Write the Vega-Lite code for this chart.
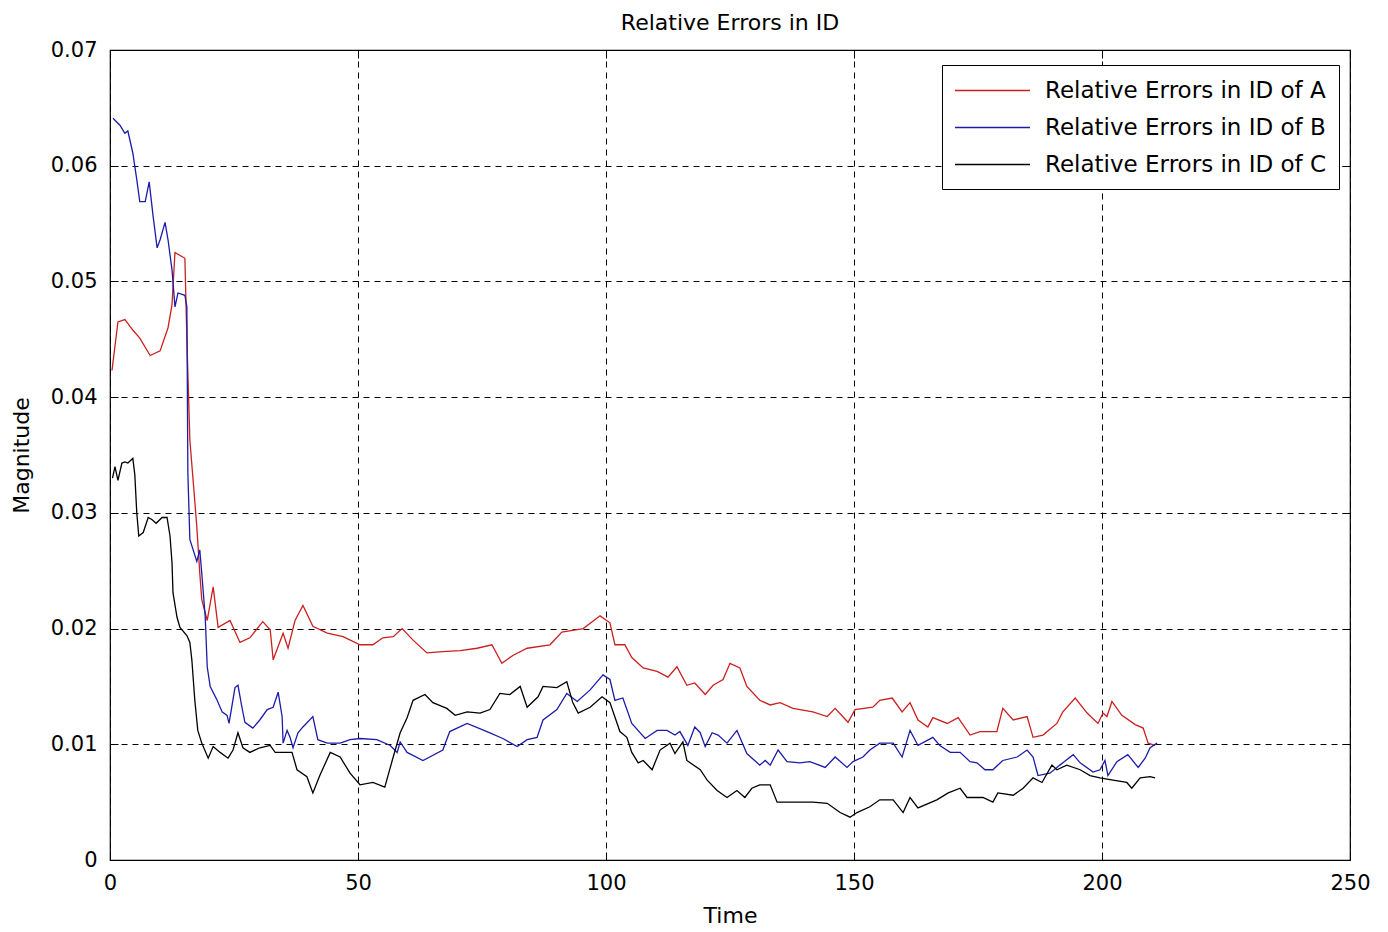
{
  "$schema": "https://vega.github.io/schema/vega-lite/v6.json",
  "width": 1240,
  "height": 810,
  "autosize": "none",
  "padding": {"left": 110, "top": 50, "right": 38, "bottom": 72},
  "background": "white",
  "config": {
    "font": "DejaVu Sans",
    "view": {"stroke": "black", "strokeWidth": 1.2},
    "axis": {"labelColor": "black", "titleColor": "black", "tickColor": "black", "domainColor": "black", "titleFontWeight": "normal"}
  },
  "title": {"text": "Relative Errors in ID", "fontSize": 22, "fontWeight": "normal", "color": "black", "offset": 4, "anchor": "middle"},
  "datasets": {
    "d": [
      {"s":"A","t":0.4,"v":0.0423},{"s":"A","t":1.6,"v":0.0465},{"s":"A","t":3.0,"v":0.0467},{"s":"A","t":4.6,"v":0.0458},{"s":"A","t":6.0,"v":0.0451},{"s":"A","t":8.1,"v":0.0436},{"s":"A","t":10.1,"v":0.0440},{"s":"A","t":11.7,"v":0.0460},{"s":"A","t":12.5,"v":0.0480},{"s":"A","t":13.1,"v":0.0525},{"s":"A","t":15.1,"v":0.0520},{"s":"A","t":15.5,"v":0.0450},{"s":"A","t":16.1,"v":0.0363},{"s":"A","t":17.1,"v":0.0310},{"s":"A","t":17.5,"v":0.0288},{"s":"A","t":18.1,"v":0.0248},{"s":"A","t":18.5,"v":0.0225},{"s":"A","t":19.6,"v":0.0207},{"s":"A","t":20.8,"v":0.0236},{"s":"A","t":21.8,"v":0.0201},{"s":"A","t":24.2,"v":0.0207},{"s":"A","t":26.2,"v":0.0188},{"s":"A","t":28.2,"v":0.0192},{"s":"A","t":30.8,"v":0.0206},{"s":"A","t":32.3,"v":0.0199},{"s":"A","t":32.9,"v":0.0173},{"s":"A","t":34.9,"v":0.0196},{"s":"A","t":35.9,"v":0.0183},{"s":"A","t":37.3,"v":0.0207},{"s":"A","t":38.9,"v":0.0220},{"s":"A","t":40.9,"v":0.0202},{"s":"A","t":43.8,"v":0.0196},{"s":"A","t":47.0,"v":0.0193},{"s":"A","t":50.4,"v":0.0186},{"s":"A","t":53.0,"v":0.0186},{"s":"A","t":55.0,"v":0.0192},{"s":"A","t":57.1,"v":0.0193},{"s":"A","t":58.9,"v":0.0200},{"s":"A","t":61.1,"v":0.0190},{"s":"A","t":63.9,"v":0.0179},{"s":"A","t":67.1,"v":0.0180},{"s":"A","t":70.6,"v":0.0181},{"s":"A","t":74.0,"v":0.0183},{"s":"A","t":77.0,"v":0.0186},{"s":"A","t":79.0,"v":0.0170},{"s":"A","t":81.3,"v":0.0177},{"s":"A","t":84.1,"v":0.0183},{"s":"A","t":88.7,"v":0.0186},{"s":"A","t":91.1,"v":0.0197},{"s":"A","t":95.4,"v":0.0200},{"s":"A","t":98.8,"v":0.0211},{"s":"A","t":100.8,"v":0.0205},{"s":"A","t":101.8,"v":0.0186},{"s":"A","t":103.8,"v":0.0186},{"s":"A","t":105.2,"v":0.0175},{"s":"A","t":107.5,"v":0.0166},{"s":"A","t":110.3,"v":0.0163},{"s":"A","t":112.5,"v":0.0158},{"s":"A","t":114.3,"v":0.0167},{"s":"A","t":116.3,"v":0.0151},{"s":"A","t":117.9,"v":0.0153},{"s":"A","t":120.0,"v":0.0143},{"s":"A","t":121.6,"v":0.0151},{"s":"A","t":123.6,"v":0.0156},{"s":"A","t":125.0,"v":0.0170},{"s":"A","t":127.0,"v":0.0166},{"s":"A","t":128.4,"v":0.0150},{"s":"A","t":131.0,"v":0.0138},{"s":"A","t":133.1,"v":0.0134},{"s":"A","t":135.1,"v":0.0136},{"s":"A","t":137.7,"v":0.0131},{"s":"A","t":141.7,"v":0.0128},{"s":"A","t":144.6,"v":0.0124},{"s":"A","t":146.2,"v":0.0131},{"s":"A","t":148.8,"v":0.0119},{"s":"A","t":150.2,"v":0.0130},{"s":"A","t":153.8,"v":0.0132},{"s":"A","t":155.2,"v":0.0138},{"s":"A","t":157.7,"v":0.0140},{"s":"A","t":159.7,"v":0.0128},{"s":"A","t":161.3,"v":0.0136},{"s":"A","t":162.9,"v":0.0121},{"s":"A","t":164.9,"v":0.0115},{"s":"A","t":165.9,"v":0.0123},{"s":"A","t":168.8,"v":0.0118},{"s":"A","t":171.0,"v":0.0123},{"s":"A","t":173.4,"v":0.0108},{"s":"A","t":175.4,"v":0.0111},{"s":"A","t":178.8,"v":0.0111},{"s":"A","t":180.0,"v":0.0131},{"s":"A","t":182.1,"v":0.0121},{"s":"A","t":184.9,"v":0.0124},{"s":"A","t":186.1,"v":0.0106},{"s":"A","t":188.1,"v":0.0108},{"s":"A","t":190.9,"v":0.0118},{"s":"A","t":192.1,"v":0.0128},{"s":"A","t":194.6,"v":0.0140},{"s":"A","t":197.0,"v":0.0127},{"s":"A","t":199.2,"v":0.0118},{"s":"A","t":200.2,"v":0.0127},{"s":"A","t":201.0,"v":0.0124},{"s":"A","t":202.0,"v":0.0137},{"s":"A","t":204.0,"v":0.0125},{"s":"A","t":206.7,"v":0.0117},{"s":"A","t":208.3,"v":0.0114},{"s":"A","t":209.3,"v":0.0101},{"s":"A","t":210.7,"v":0.0099},
      {"s":"B","t":0.6,"v":0.0641},{"s":"B","t":2.0,"v":0.0635},{"s":"B","t":3.0,"v":0.0628},{"s":"B","t":3.6,"v":0.0630},{"s":"B","t":4.6,"v":0.0611},{"s":"B","t":5.4,"v":0.0588},{"s":"B","t":6.0,"v":0.0569},{"s":"B","t":7.1,"v":0.0569},{"s":"B","t":7.9,"v":0.0586},{"s":"B","t":8.7,"v":0.0556},{"s":"B","t":9.5,"v":0.0529},{"s":"B","t":10.1,"v":0.0536},{"s":"B","t":11.1,"v":0.0551},{"s":"B","t":11.7,"v":0.0536},{"s":"B","t":12.5,"v":0.0510},{"s":"B","t":13.1,"v":0.0478},{"s":"B","t":13.7,"v":0.0490},{"s":"B","t":15.1,"v":0.0488},{"s":"B","t":15.5,"v":0.0478},{"s":"B","t":15.7,"v":0.0334},{"s":"B","t":16.1,"v":0.0277},{"s":"B","t":17.5,"v":0.0258},{"s":"B","t":18.1,"v":0.0268},{"s":"B","t":18.5,"v":0.0248},{"s":"B","t":19.2,"v":0.0210},{"s":"B","t":19.6,"v":0.0167},{"s":"B","t":20.2,"v":0.0150},{"s":"B","t":21.6,"v":0.0138},{"s":"B","t":22.6,"v":0.0128},{"s":"B","t":23.6,"v":0.0125},{"s":"B","t":24.0,"v":0.0118},{"s":"B","t":25.2,"v":0.0149},{"s":"B","t":25.8,"v":0.0151},{"s":"B","t":26.6,"v":0.0132},{"s":"B","t":27.2,"v":0.0119},{"s":"B","t":28.8,"v":0.0114},{"s":"B","t":30.2,"v":0.0121},{"s":"B","t":31.7,"v":0.0130},{"s":"B","t":32.9,"v":0.0132},{"s":"B","t":33.9,"v":0.0145},{"s":"B","t":34.7,"v":0.0124},{"s":"B","t":34.9,"v":0.0101},{"s":"B","t":35.7,"v":0.0112},{"s":"B","t":36.3,"v":0.0106},{"s":"B","t":36.9,"v":0.0097},{"s":"B","t":37.9,"v":0.0110},{"s":"B","t":38.9,"v":0.0115},{"s":"B","t":40.9,"v":0.0124},{"s":"B","t":41.9,"v":0.0104},{"s":"B","t":43.8,"v":0.0101},{"s":"B","t":46.4,"v":0.0101},{"s":"B","t":48.4,"v":0.0104},{"s":"B","t":50.4,"v":0.0105},{"s":"B","t":53.8,"v":0.0104},{"s":"B","t":56.5,"v":0.0099},{"s":"B","t":57.9,"v":0.0093},{"s":"B","t":58.5,"v":0.0102},{"s":"B","t":59.9,"v":0.0093},{"s":"B","t":63.1,"v":0.0086},{"s":"B","t":67.1,"v":0.0095},{"s":"B","t":68.5,"v":0.0111},{"s":"B","t":72.0,"v":0.0118},{"s":"B","t":76.0,"v":0.0111},{"s":"B","t":79.2,"v":0.0105},{"s":"B","t":82.1,"v":0.0098},{"s":"B","t":84.1,"v":0.0104},{"s":"B","t":86.1,"v":0.0106},{"s":"B","t":87.3,"v":0.0121},{"s":"B","t":90.1,"v":0.0130},{"s":"B","t":92.1,"v":0.0144},{"s":"B","t":94.2,"v":0.0137},{"s":"B","t":96.8,"v":0.0147},{"s":"B","t":99.4,"v":0.0160},{"s":"B","t":100.8,"v":0.0156},{"s":"B","t":101.8,"v":0.0138},{"s":"B","t":103.4,"v":0.0140},{"s":"B","t":105.2,"v":0.0118},{"s":"B","t":107.9,"v":0.0105},{"s":"B","t":110.3,"v":0.0112},{"s":"B","t":112.3,"v":0.0112},{"s":"B","t":113.9,"v":0.0108},{"s":"B","t":114.9,"v":0.0111},{"s":"B","t":116.5,"v":0.0099},{"s":"B","t":117.9,"v":0.0115},{"s":"B","t":119.0,"v":0.0110},{"s":"B","t":120.0,"v":0.0098},{"s":"B","t":121.4,"v":0.0110},{"s":"B","t":122.6,"v":0.0108},{"s":"B","t":124.4,"v":0.0101},{"s":"B","t":126.4,"v":0.0112},{"s":"B","t":128.4,"v":0.0092},{"s":"B","t":131.0,"v":0.0082},{"s":"B","t":132.1,"v":0.0086},{"s":"B","t":133.1,"v":0.0082},{"s":"B","t":134.7,"v":0.0095},{"s":"B","t":136.5,"v":0.0085},{"s":"B","t":139.1,"v":0.0084},{"s":"B","t":141.1,"v":0.0085},{"s":"B","t":144.2,"v":0.0080},{"s":"B","t":146.2,"v":0.0089},{"s":"B","t":148.6,"v":0.0080},{"s":"B","t":149.8,"v":0.0085},{"s":"B","t":151.8,"v":0.0089},{"s":"B","t":153.2,"v":0.0095},{"s":"B","t":155.2,"v":0.0101},{"s":"B","t":157.9,"v":0.0101},{"s":"B","t":159.7,"v":0.0089},{"s":"B","t":161.3,"v":0.0112},{"s":"B","t":162.9,"v":0.0099},{"s":"B","t":165.9,"v":0.0106},{"s":"B","t":167.3,"v":0.0099},{"s":"B","t":169.4,"v":0.0093},{"s":"B","t":171.4,"v":0.0093},{"s":"B","t":173.4,"v":0.0085},{"s":"B","t":174.8,"v":0.0084},{"s":"B","t":176.4,"v":0.0078},{"s":"B","t":178.0,"v":0.0078},{"s":"B","t":180.0,"v":0.0086},{"s":"B","t":182.9,"v":0.0089},{"s":"B","t":184.9,"v":0.0095},{"s":"B","t":186.1,"v":0.0089},{"s":"B","t":187.1,"v":0.0073},{"s":"B","t":189.5,"v":0.0075},{"s":"B","t":191.5,"v":0.0082},{"s":"B","t":194.2,"v":0.0091},{"s":"B","t":195.6,"v":0.0084},{"s":"B","t":198.2,"v":0.0076},{"s":"B","t":199.6,"v":0.0078},{"s":"B","t":200.6,"v":0.0086},{"s":"B","t":201.2,"v":0.0073},{"s":"B","t":203.0,"v":0.0085},{"s":"B","t":205.2,"v":0.0091},{"s":"B","t":207.3,"v":0.0080},{"s":"B","t":208.7,"v":0.0088},{"s":"B","t":209.7,"v":0.0097},{"s":"B","t":211.1,"v":0.0101},
      {"s":"C","t":0.5,"v":0.0330},{"s":"C","t":1.0,"v":0.0340},{"s":"C","t":1.6,"v":0.0328},{"s":"C","t":2.4,"v":0.0343},{"s":"C","t":3.0,"v":0.0344},{"s":"C","t":3.6,"v":0.0343},{"s":"C","t":4.6,"v":0.0347},{"s":"C","t":5.0,"v":0.0333},{"s":"C","t":5.4,"v":0.0300},{"s":"C","t":5.8,"v":0.0280},{"s":"C","t":6.7,"v":0.0283},{"s":"C","t":7.7,"v":0.0296},{"s":"C","t":8.5,"v":0.0294},{"s":"C","t":9.3,"v":0.0291},{"s":"C","t":10.5,"v":0.0296},{"s":"C","t":11.5,"v":0.0296},{"s":"C","t":12.1,"v":0.0280},{"s":"C","t":12.5,"v":0.0257},{"s":"C","t":12.7,"v":0.0231},{"s":"C","t":13.5,"v":0.0210},{"s":"C","t":14.1,"v":0.0201},{"s":"C","t":15.5,"v":0.0194},{"s":"C","t":16.1,"v":0.0188},{"s":"C","t":16.5,"v":0.0173},{"s":"C","t":17.1,"v":0.0138},{"s":"C","t":17.7,"v":0.0112},{"s":"C","t":18.5,"v":0.0101},{"s":"C","t":19.8,"v":0.0088},{"s":"C","t":20.8,"v":0.0098},{"s":"C","t":22.2,"v":0.0093},{"s":"C","t":23.8,"v":0.0088},{"s":"C","t":24.8,"v":0.0095},{"s":"C","t":25.8,"v":0.0110},{"s":"C","t":26.8,"v":0.0097},{"s":"C","t":28.2,"v":0.0093},{"s":"C","t":30.2,"v":0.0097},{"s":"C","t":32.3,"v":0.0099},{"s":"C","t":33.3,"v":0.0093},{"s":"C","t":34.9,"v":0.0093},{"s":"C","t":36.7,"v":0.0093},{"s":"C","t":37.7,"v":0.0078},{"s":"C","t":39.7,"v":0.0072},{"s":"C","t":40.9,"v":0.0058},{"s":"C","t":42.3,"v":0.0073},{"s":"C","t":44.4,"v":0.0093},{"s":"C","t":46.4,"v":0.0089},{"s":"C","t":48.4,"v":0.0075},{"s":"C","t":50.4,"v":0.0065},{"s":"C","t":53.0,"v":0.0067},{"s":"C","t":55.4,"v":0.0063},{"s":"C","t":57.1,"v":0.0089},{"s":"C","t":58.5,"v":0.0110},{"s":"C","t":59.9,"v":0.0123},{"s":"C","t":61.1,"v":0.0138},{"s":"C","t":63.5,"v":0.0143},{"s":"C","t":65.1,"v":0.0136},{"s":"C","t":67.9,"v":0.0131},{"s":"C","t":69.6,"v":0.0125},{"s":"C","t":72.0,"v":0.0128},{"s":"C","t":74.6,"v":0.0127},{"s":"C","t":76.6,"v":0.0130},{"s":"C","t":78.6,"v":0.0144},{"s":"C","t":80.6,"v":0.0143},{"s":"C","t":82.7,"v":0.0150},{"s":"C","t":84.1,"v":0.0132},{"s":"C","t":86.3,"v":0.0141},{"s":"C","t":87.3,"v":0.0150},{"s":"C","t":90.1,"v":0.0149},{"s":"C","t":92.1,"v":0.0154},{"s":"C","t":93.3,"v":0.0136},{"s":"C","t":94.4,"v":0.0127},{"s":"C","t":96.8,"v":0.0132},{"s":"C","t":99.2,"v":0.0141},{"s":"C","t":100.8,"v":0.0136},{"s":"C","t":102.8,"v":0.0111},{"s":"C","t":104.2,"v":0.0106},{"s":"C","t":105.2,"v":0.0093},{"s":"C","t":106.5,"v":0.0084},{"s":"C","t":107.5,"v":0.0086},{"s":"C","t":109.3,"v":0.0078},{"s":"C","t":110.9,"v":0.0095},{"s":"C","t":112.9,"v":0.0101},{"s":"C","t":113.9,"v":0.0092},{"s":"C","t":115.5,"v":0.0102},{"s":"C","t":116.3,"v":0.0086},{"s":"C","t":119.0,"v":0.0078},{"s":"C","t":120.4,"v":0.0069},{"s":"C","t":122.4,"v":0.0060},{"s":"C","t":124.4,"v":0.0054},{"s":"C","t":126.4,"v":0.0060},{"s":"C","t":128.0,"v":0.0054},{"s":"C","t":129.4,"v":0.0062},{"s":"C","t":131.0,"v":0.0065},{"s":"C","t":133.1,"v":0.0065},{"s":"C","t":134.5,"v":0.0050},{"s":"C","t":137.7,"v":0.0050},{"s":"C","t":141.7,"v":0.0050},{"s":"C","t":144.6,"v":0.0049},{"s":"C","t":147.2,"v":0.0041},{"s":"C","t":149.2,"v":0.0037},{"s":"C","t":150.6,"v":0.0041},{"s":"C","t":153.2,"v":0.0046},{"s":"C","t":155.2,"v":0.0052},{"s":"C","t":157.9,"v":0.0052},{"s":"C","t":159.9,"v":0.0041},{"s":"C","t":161.3,"v":0.0054},{"s":"C","t":162.9,"v":0.0045},{"s":"C","t":166.7,"v":0.0052},{"s":"C","t":169.0,"v":0.0058},{"s":"C","t":171.4,"v":0.0062},{"s":"C","t":172.8,"v":0.0054},{"s":"C","t":176.0,"v":0.0054},{"s":"C","t":178.0,"v":0.0050},{"s":"C","t":179.0,"v":0.0058},{"s":"C","t":182.1,"v":0.0056},{"s":"C","t":184.1,"v":0.0062},{"s":"C","t":186.1,"v":0.0071},{"s":"C","t":187.9,"v":0.0067},{"s":"C","t":189.9,"v":0.0082},{"s":"C","t":190.9,"v":0.0078},{"s":"C","t":192.9,"v":0.0082},{"s":"C","t":195.6,"v":0.0078},{"s":"C","t":197.6,"v":0.0073},{"s":"C","t":199.6,"v":0.0071},{"s":"C","t":202.2,"v":0.0069},{"s":"C","t":205.0,"v":0.0067},{"s":"C","t":206.0,"v":0.0062},{"s":"C","t":207.7,"v":0.0071},{"s":"C","t":209.7,"v":0.0072},{"s":"C","t":210.7,"v":0.0071}
    ]
  },
  "data": {"name": "d"},
  "layer": [
    {
      "mark": {"type": "line", "strokeWidth": 1.3},
      "encoding": {
        "x": {"field": "t", "type": "quantitative", "scale": {"domain": [0, 250], "nice": false, "zero": false},
          "axis": {"orient": "bottom", "values": [0, 50, 100, 150, 200, 250], "title": "Time", "titleFontSize": 22, "titlePadding": 12, "labelFontSize": 21, "labelPadding": 20, "tickSize": -8, "domain": false, "grid": true, "gridColor": "black", "gridOpacity": 1, "gridDash": [6, 5], "gridWidth": 1, "labelFlush": false}},
        "y": {"field": "v", "type": "quantitative", "scale": {"domain": [0, 0.07], "nice": false},
          "axis": {"orient": "left", "values": [0, 0.01, 0.02, 0.03, 0.04, 0.05, 0.06, 0.07], "format": "~g", "title": "Magnitude", "titleFontSize": 22, "titlePadding": 17, "labelFontSize": 21, "labelPadding": 21, "tickSize": -8, "domain": false, "grid": true, "gridColor": "black", "gridOpacity": 1, "gridDash": [6, 5], "gridWidth": 1, "labelFlush": false}},
        "color": {"field": "s", "type": "nominal",
          "scale": {"domain": ["A", "B", "C"], "range": ["#cc1f1f", "#1c1caa", "#000000"]},
          "legend": {"orient": "none", "legendX": 832, "legendY": 15, "title": null, "fillColor": "white", "strokeColor": "black", "padding": 12, "symbolType": "M-1,0H5", "symbolSize": 625, "symbolStrokeWidth": 1.3, "labelFontSize": 23, "labelColor": "black", "labelOffset": 64, "rowPadding": 11, "labelLimit": 0,
            "labelExpr": "'Relative Errors in ID of ' + datum.label"}}
      }
    },
    {
      "mark": {"type": "line", "opacity": 0},
      "encoding": {
        "x": {"field": "t", "type": "quantitative", "axis": {"orient": "top", "values": [0, 50, 100, 150, 200, 250], "labels": false, "title": null, "tickSize": -8, "domain": false, "grid": false}},
        "y": {"field": "v", "type": "quantitative", "axis": {"orient": "right", "values": [0, 0.01, 0.02, 0.03, 0.04, 0.05, 0.06, 0.07], "labels": false, "title": null, "tickSize": -8, "domain": false, "grid": false}},
        "detail": {"field": "s"}
      }
    }
  ],
  "resolve": {"axis": {"x": "independent", "y": "independent"}}
}
